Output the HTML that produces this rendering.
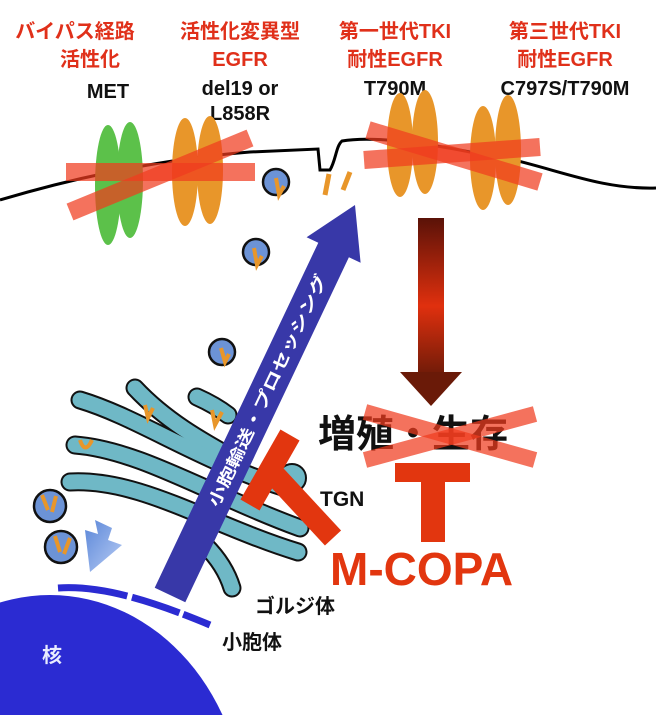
<!DOCTYPE html>
<html><head><meta charset="utf-8"><style>
html,body{margin:0;padding:0;background:#fff;width:656px;height:715px;overflow:hidden;}
svg{display:block;}
text{font-family:"Liberation Sans","Noto Sans CJK JP",sans-serif;font-weight:bold;}
</style></head><body>
<svg width="656" height="715" viewBox="0 0 656 715" xmlns="http://www.w3.org/2000/svg">
<defs>
<linearGradient id="dg" x1="0" y1="0" x2="0" y2="1">
<stop offset="0" stop-color="#5a1208"/><stop offset="0.55" stop-color="#e0300e"/><stop offset="1" stop-color="#6a1a08"/>
</linearGradient>
<linearGradient id="lb" x1="0" y1="0" x2="1" y2="1">
<stop offset="0" stop-color="#5a86d8"/><stop offset="1" stop-color="#b8ccf4"/>
</linearGradient>
</defs>

<g font-size="20" text-anchor="middle">
<text x="75" y="38" fill="#e0301a">バイパス経路</text>
<text x="90" y="66" fill="#e0301a">活性化</text>
<text x="108" y="98" fill="#111">MET</text>
<text x="240" y="38" fill="#e0301a">活性化変異型</text>
<text x="240" y="66" fill="#e0301a">EGFR</text>
<text x="240" y="95" fill="#111">del19 or</text>
<text x="240" y="120" fill="#111">L858R</text>
<text x="395" y="38" fill="#e0301a">第一世代TKI</text>
<text x="395" y="66" fill="#e0301a">耐性EGFR</text>
<text x="395" y="95" fill="#111">T790M</text>
<text x="565" y="38" fill="#e0301a">第三世代TKI</text>
<text x="565" y="66" fill="#e0301a">耐性EGFR</text>
<text x="565" y="95" fill="#111">C797S/T790M</text>
</g>

<path d="M0,200 C60,182 150,160 250,152 L318,149 L320,170 L330,170 C336,160 336,146 342,141 C370,136 420,142 470,152 C540,160 590,190 656,188" fill="none" stroke="#000" stroke-width="3"/>

<g stroke="none">
<ellipse cx="108" cy="185" rx="13" ry="60" fill="#5cc14a"/>
<ellipse cx="130" cy="180" rx="13" ry="58" fill="#5cc14a"/>
<ellipse cx="185" cy="172" rx="13" ry="54" fill="#e8962a"/>
<ellipse cx="210" cy="170" rx="13" ry="54" fill="#e8962a"/>
<ellipse cx="400" cy="145" rx="13" ry="52" fill="#e8962a"/>
<ellipse cx="425" cy="142" rx="13" ry="52" fill="#e8962a"/>
<ellipse cx="483" cy="158" rx="13" ry="52" fill="#e8962a"/>
<ellipse cx="508" cy="150" rx="13" ry="55" fill="#e8962a"/>
</g>
<g stroke="rgba(240,60,30,0.72)" stroke-width="18">
<line x1="66" y1="172" x2="255" y2="172"/>
<line x1="70" y1="212" x2="250" y2="138"/>
<line x1="368" y1="130" x2="540" y2="182"/>
<line x1="364" y1="160" x2="540" y2="147"/>
</g>
<g stroke="#e8962a" stroke-width="5">
<line x1="329" y1="174" x2="325" y2="195"/>
<line x1="350" y1="172" x2="343" y2="190"/>
</g>

<g stroke="#111" stroke-width="2.5" fill="#6c93d6">
<circle cx="276" cy="182" r="13"/>
<circle cx="256" cy="252" r="13"/>
<circle cx="222" cy="352" r="13"/>
<circle cx="50" cy="506" r="16"/>
<circle cx="61" cy="547" r="16"/>
</g>
<g stroke="#e8962a" stroke-width="4" fill="none">
<path d="M276,178 L279,195 L284,186"/>
<path d="M254,248 L257,265 L262,256"/>
<path d="M221,348 L225,362 L229,354"/>
<path d="M42,495 L48,510 M56,496 L52,512"/>
<path d="M55,536 L60,552 M70,538 L64,554"/>
</g>

<!-- golgi -->
<g fill="none" stroke-linecap="round">
<g stroke="#111" stroke-width="19">
<path d="M135,388 C165,420 200,440 240,462"/>
<path d="M197,397 Q215,405 228,415"/>
<path d="M80,400 C140,418 200,462 292,490"/>
<path d="M75,445 C140,450 210,495 300,528"/>
<path d="M70,482 C140,478 210,525 298,552"/>
<path d="M205,545 Q225,565 232,588"/>
</g>
<circle cx="292" cy="478" r="14" fill="#6fb8c6" stroke="#111" stroke-width="2"/>
<g stroke="#6fb8c6" stroke-width="15">
<path d="M135,388 C165,420 200,440 240,462"/>
<path d="M197,397 Q215,405 228,415"/>
<path d="M80,400 C140,418 200,462 292,490"/>
<path d="M75,445 C140,450 210,495 300,528"/>
<path d="M70,482 C140,478 210,525 298,552"/>
<path d="M205,545 Q225,565 232,588"/>
</g>
</g>
<g stroke="#e8962a" stroke-width="4" fill="none">
<path d="M80,440 Q85,455 92,440"/>
<path d="M145,405 L148,418 L153,408"/>
<path d="M212,410 L215,425 L222,412"/>
</g>

<ellipse cx="50" cy="820" rx="195" ry="225" fill="#2b2bd2"/>
<path d="M58,588 C100,585 150,600 210,625" fill="none" stroke="#2b2bd2" stroke-width="7" stroke-dasharray="70,5,50,4,60"/>
<text x="42" y="662" font-size="20" fill="#e8ecff" font-weight="normal">核</text>

<polygon points="95,520 112,528 108,540 122,545 90,572 85,530 98,534" fill="url(#lb)"/>

<polygon points="154.7,587.7 185.3,602.3 348.9,257.3 360.6,262.8 355,205 306.6,237.2 318.3,242.7" fill="#3838a8"/>
<text transform="translate(218,508) rotate(-64.6)" font-size="16" fill="#fff" font-weight="normal" textLength="255" lengthAdjust="spacingAndGlyphs">小胞輸送・プロセッシング</text>

<rect x="418" y="218" width="26" height="160" fill="url(#dg)"/>
<polygon points="400,372 462,372 431,406" fill="#6a1a08"/>

<text x="318" y="447" font-size="38" fill="#111">増殖・生存</text>
<g stroke="rgba(240,60,30,0.72)" stroke-width="16">
<line x1="365" y1="412" x2="535" y2="460"/>
<line x1="365" y1="460" x2="535" y2="414"/>
</g>

<g fill="#e2360f">
<rect x="395" y="463" width="75" height="19"/>
<rect x="421" y="480" width="24" height="62"/>
</g>
<g stroke="#e2360f" stroke-width="22">
<line x1="250" y1="505" x2="290" y2="435"/>
<line x1="270" y1="470" x2="333" y2="538"/>
</g>

<text x="320" y="506" font-size="21" fill="#111">TGN</text>
<text x="330" y="585" font-size="46" fill="#e2360f">M-COPA</text>
<text x="255" y="613" font-size="20" fill="#111" font-weight="normal">ゴルジ体</text>
<text x="222" y="649" font-size="20" fill="#111" font-weight="normal">小胞体</text>
</svg>
</body></html>
